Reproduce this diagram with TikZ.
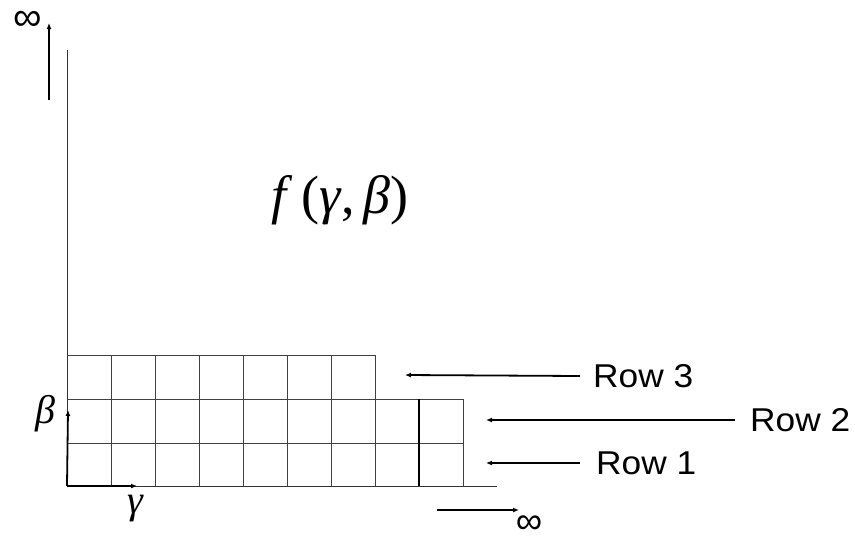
\documentclass[tikz,border=0pt]{standalone}
\usepackage{fontspec}
\newfontfamily\arialfont{Liberation Sans}
\newfontfamily\timesfont{Liberation Serif}
\usetikzlibrary{arrows.meta}
\begin{document}
\begin{tikzpicture}[x=1pt,y=-1pt,
  gridline/.style={draw=black!75,line width=0.9pt},
  axisline/.style={draw=black!80,line width=0.8pt},
  arr/.style={draw=black,line width=1.8pt,-{Latex[length=6pt,width=5pt]}},
  rowlabel/.style={font=\arialfont\fontsize{33}{38}\selectfont,inner sep=0pt,anchor=west},
  mathlabel/.style={inner sep=0pt}]
\useasboundingbox (0,0) rectangle (855,539);
% main axis
\coordinate (axtop) at (67,50);
\coordinate (orig) at (67,486);
\coordinate (axend) at (497,486);
\draw[axisline] (axtop) -- (orig) -- (axend);
% grid
\foreach \y in {399,443} \draw[gridline] (67,\y) -- (463,\y);
\draw[gridline] (67,355) -- (375,355);
\foreach \x in {111,155,...,375} \draw[gridline] (\x,355) -- (\x,486);
\draw[gridline] (463,399) -- (463,486);
\draw[draw=black,line width=1.8pt] (419,399) -- (419,486);
% small axis arrows
\coordinate (bt) at (68,410);
\coordinate (gt) at (137,486);
\draw[arr] (orig) -- (bt);
\draw[arr] (orig) -- (gt);
\node[mathlabel,font=\timesfont\itshape\fontsize{40}{44}\selectfont] (beta) at (45,414) {β};
\node[mathlabel,font=\timesfont\itshape\fontsize{40}{44}\selectfont] (gamma) at (135,509) {γ};
% top infinity arrow
\coordinate (ua) at (49,100);
\coordinate (ub) at (49,23);
\draw[arr,line width=2pt] (ua) -- (ub);
\node[mathlabel,font=\arialfont\fontsize{40}{44}\selectfont] (inftop) at (28,21) {∞};
% bottom infinity arrow
\coordinate (ba) at (437,510);
\coordinate (bb) at (519,510);
\draw[arr] (ba) -- (bb);
\node[mathlabel,font=\arialfont\fontsize{37}{42}\selectfont] (infbot) at (529,525) {∞};
% function label
\node[mathlabel,font=\timesfont\fontsize{54}{60}\selectfont] (f) at (340,200) {\textit{f}\,(\textit{γ},\,\textit{β})};
% row labels
\node[rowlabel] (r3) at (593,376) {\scalebox{1.07}[1]{Row 3}};
\node[rowlabel] (r2) at (750,420) {\scalebox{1.07}[1]{Row 2}};
\node[rowlabel] (r1) at (596,463) {\scalebox{1.07}[1]{Row 1}};
\coordinate (t3) at (405,375);
\coordinate (t2) at (486,420);
\coordinate (t1) at (486,463);
\draw[arr] ([xshift=-13pt]r3.west) -- (t3);
\draw[arr] ([xshift=-15pt]r2.west) -- (t2);
\draw[arr] ([xshift=-16pt]r1.west) -- (t1);
\end{tikzpicture}
\end{document}
